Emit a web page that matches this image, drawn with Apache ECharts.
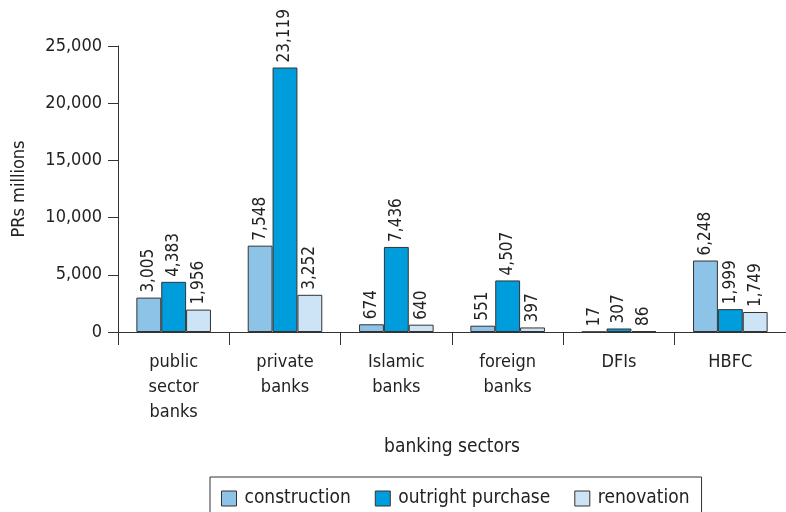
<!DOCTYPE html>
<html><head><meta charset="utf-8">
<script src="https://cdn.jsdelivr.net/npm/echarts@6/dist/echarts.min.js"></script>
<style>html,body{margin:0;padding:0;background:#fff}#c{width:786px;height:512px}</style>
</head><body><div id="c"></div>
<script>
var categories = ['public\nsector\nbanks', 'private\nbanks', 'Islamic\nbanks', 'foreign\nbanks', 'DFIs', 'HBFC'];
var seriesNames = ['construction', 'outright purchase', 'renovation'];
var construction = [3005, 7548, 674, 551, 17, 6248];
var outrightPurchase = [4383, 23119, 7436, 4507, 307, 1999];
var renovation = [1956, 3252, 640, 397, 86, 1749];
var yTicks = [0, 5000, 10000, 15000, 20000, 25000];

var FONT = "'Liberation Sans Narrow', 'DejaVu Sans Condensed', 'Roboto', sans-serif";
var colors = ['#8EC3E8', '#009DDC', '#CDE3F6'];
function fmt(v){ return v.toLocaleString('en-US'); }
function mk(name, data, i){
  return {
    name: name, type: 'bar', data: data, barGap: '0%', barCategoryGap: '33%',
    itemStyle: {color: colors[i], borderColor: '#333', borderWidth: 1},
    label: {show: true, position: 'top', rotate: 90, align: 'left', verticalAlign: 'middle', distance: 5,
      fontFamily: FONT, fontSize: 17, color: '#222', formatter: function(p){ return fmt(p.value); }}
  };
}
var chart = echarts.init(document.getElementById('c'));
chart.setOption({
  animation: false,
  textStyle: {fontFamily: FONT},
  grid: {left: 118, right: 0, top: 46, bottom: 180},
  legend: {
    top: 477, left: 210, itemWidth: 15, itemHeight: 15, itemGap: 24,
    borderColor: '#333', borderWidth: 1, padding: [12, 12, 14, 11],
    textStyle: {fontFamily: FONT, fontSize: 19, color: '#222', padding: [0, 0, 0, 3]},
    data: seriesNames.map(function(n){ return {name: n, icon: 'rect', itemStyle: {borderColor: '#333', borderWidth: 1}}; })
  },
  xAxis: {
    type: 'category', data: categories,
    name: 'banking sectors', nameLocation: 'middle', nameGap: 106,
    nameTextStyle: {fontFamily: FONT, fontSize: 19, color: '#222'},
    axisLine: {lineStyle: {color: '#333', width: 1}},
    axisTick: {show: true, length: 13, lineStyle: {color: '#333'}},
    axisLabel: {fontFamily: FONT, fontSize: 18, color: '#222', lineHeight: 25, margin: 18}
  },
  yAxis: {
    type: 'value', min: 0, max: 25000, interval: 5000,
    name: 'PRs millions', nameLocation: 'middle', nameGap: 90, nameRotate: 90,
    nameTextStyle: {fontFamily: FONT, fontSize: 18, color: '#222'},
    splitLine: {show: false},
    axisLine: {show: true, lineStyle: {color: '#333', width: 1}},
    axisTick: {show: true, length: 10, lineStyle: {color: '#333'}},
    axisLabel: {fontFamily: FONT, fontSize: 18, color: '#222', margin: 16,
      formatter: function(v){ return yTicks.indexOf(v) >= 0 ? fmt(v) : ''; }}
  },
  series: [mk(seriesNames[0], construction, 0), mk(seriesNames[1], outrightPurchase, 1), mk(seriesNames[2], renovation, 2)]
});
</script></body></html>
